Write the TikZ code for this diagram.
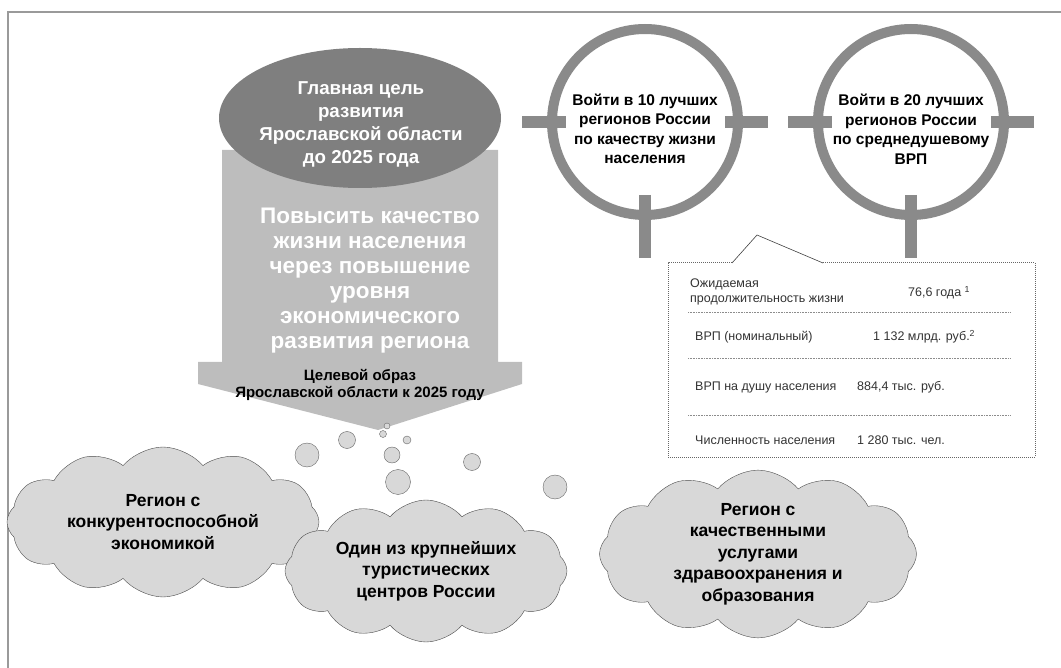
\documentclass[tikz,border=0pt]{standalone}
\usepackage{fontspec}
\setmainfont{Liberation Sans}
\usetikzlibrary{shapes.symbols,shapes.geometric}
\definecolor{goalgray}{HTML}{7F7F7F}
\definecolor{arrowgray}{HTML}{BDBDBD}
\definecolor{cloudgray}{HTML}{D8D8D8}
\definecolor{ringgray}{HTML}{8A8A8A}
\definecolor{framegray}{HTML}{9A9A9A}
\begin{document}
\begin{tikzpicture}
[x=1pt,y=-1pt,
goalbox/.style = {ellipse, fill = goalgray, inner sep = 0pt, minimum width = 282pt, minimum height = 140pt},
cloudbox/.style = {cloud, cloud puffs = 12, cloud puff arc = 100, cloud ignores aspect, draw = black!70, fill = cloudgray, align = center, inner sep = 0pt, font = \fontsize{17.5}{21.5}\selectfont\bfseries},
bubble/.style = {circle, draw = black!60, fill = cloudgray, inner sep = 0pt},
target/.style = {circle, draw = ringgray, line width = 10pt, minimum size = 186pt, inner sep = 0pt},
targettext/.style = {align = center, font = \fontsize{15.5}{19.5}\selectfont\bfseries},
tick/.style = {draw = ringgray, line width = 12pt},
rowtext/.style = {anchor = west, text = black!80, inner sep = 0pt, align = left, font = \fontsize{12.5}{15}\selectfont},
rowline/.style = {draw = black!45, densely dotted, line width = 0.6pt},
]
\useasboundingbox (0,0) rectangle (1061,668);
\draw[framegray, line width = 2pt] (8,668) -- (8,12) -- (1061,12);
% big arrow with the main goal
\fill[arrowgray] (222,150) -- (498,150) -- (498,362) -- (522,362) -- (522,384) -- (378,430) -- (198,384) -- (198,362) -- (222,362) -- cycle;
\node (goal) at (360,118)[goalbox] {};
\node (goaltext) at (361,124)[text = white, align = center, font = \fontsize{18.7}{23}\selectfont\bfseries] {Главная цель\\развития\\Ярославской области\\до 2025 года};
\node (aim) at (370,281)[text = white, align = center, font = \fontsize{22.5}{25}\selectfont\bfseries] {Повысить качество\\жизни населения\\через повышение\\уровня\\экономического\\развития региона};
\node (image) at (360,385)[align = center, font = \fontsize{15}{17}\selectfont\bfseries] {Целевой образ\\Ярославской области к 2025 году};
% bubbles
\node (b1) at (387,426)[bubble, minimum size = 6pt] {};
\node (b2) at (383,434)[bubble, minimum size = 7pt] {};
\node (b3) at (407,440)[bubble, minimum size = 8pt] {};
\node (b4) at (347,440)[bubble, minimum size = 17pt] {};
\node (b5) at (392,455)[bubble, minimum size = 16pt] {};
\node (b6) at (307,455)[bubble, minimum size = 24pt] {};
\node (b7) at (398,482)[bubble, minimum size = 25pt] {};
\node (b8) at (472,462)[bubble, minimum size = 17pt] {};
\node (b9) at (555,487)[bubble, minimum size = 24pt] {};
% clouds
\node (econ) at (163,522)[cloudbox, minimum width = 312pt, minimum height = 150pt] {Регион с\\конкурентоспособной\\экономикой};
\node (tour) at (426,571)[cloudbox, minimum width = 282pt, minimum height = 142pt] {Один из крупнейших\\туристических\\центров России};
\node (serv) at (758,554)[cloudbox, minimum width = 317pt, minimum height = 158pt] {Регион с\\качественными\\услугами\\здравоохранения и\\образования};
% targets
\node (t1) at (645,122)[target] {};
\node (t2) at (911,122)[target] {};
\node (t1text) at (645,129)[targettext] {Войти в 10 лучших\\регионов России\\по качеству жизни\\населения};
\node (t2text) at (911,129)[targettext] {Войти в 20 лучших\\регионов России\\по среднедушевому\\ВРП};
\draw[tick] ([xshift=-123pt]t1.center) -- ([xshift=-79pt]t1.center);
\draw[tick] ([xshift=80pt]t1.center) -- ([xshift=123pt]t1.center);
\draw[tick] ([yshift=-73pt]t1.center) -- ([yshift=-136pt]t1.center);
\draw[tick] ([xshift=-123pt]t2.center) -- ([xshift=-79pt]t2.center);
\draw[tick] ([xshift=80pt]t2.center) -- ([xshift=123pt]t2.center);
\draw[tick] ([yshift=-73pt]t2.center) -- ([yshift=-136pt]t2.center);
% callout with the figures
\coordinate (c1) at (732,263);
\coordinate (c2) at (757,235);
\coordinate (c3) at (823,263);
\fill[white] (668,263) -- (c1) -- (c2) -- (c3) -- (1035,263) -- (1035,457) -- (668,457) -- cycle;
\draw[black!60, densely dotted, line width = 1pt] (c3) -- (1035,263) -- (1035,457) -- (668,457) -- (668,263) -- (c1);
\draw[black!75, line width = 0.6pt] (c1) -- (c2) -- (c3);
\node (r1a) at (690,292)[rowtext] {Ожидаемая\\продолжительность жизни};
\node (r1b) at (908,293)[rowtext] {76,6 года \textsuperscript{1}};
\node (r2a) at (695,337)[rowtext] {ВРП (номинальный)};
\node (r2b) at (873,337)[rowtext] {1 132 млрд. руб.\textsuperscript{2}};
\node (r3a) at (695,387)[rowtext] {ВРП на душу населения};
\node (r3b) at (857,387)[rowtext] {884,4 тыс. руб.};
\node (r4a) at (695,440)[rowtext] {Численность населения};
\node (r4b) at (857,440)[rowtext] {1 280 тыс. чел.};
\draw[rowline] (688,312) -- (1010,312);
\draw[rowline] (688,358) -- (1010,358);
\draw[rowline] (688,415) -- (1010,415);
\end{tikzpicture}
\end{document}
